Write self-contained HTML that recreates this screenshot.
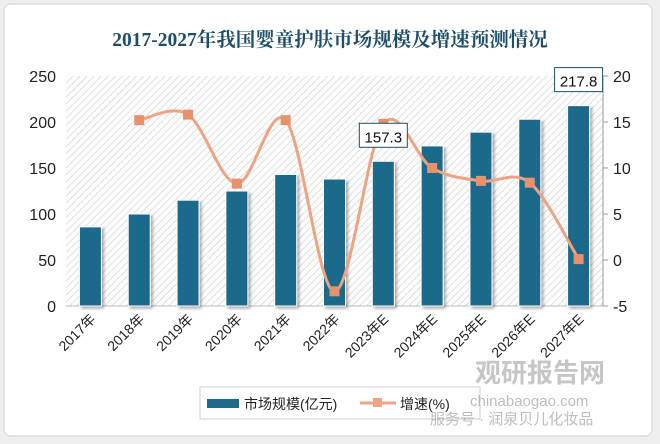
<!DOCTYPE html>
<html><head><meta charset="utf-8"><style>
body{margin:0;background:#fff;}
svg{display:block;font-family:"Liberation Sans","Noto Sans CJK SC",sans-serif;}
</style></head><body>
<svg id="c" width="660" height="444" viewBox="0 0 660 444">
<defs>
<pattern id="hatch" width="5" height="5" patternUnits="userSpaceOnUse" patternTransform="rotate(45)">
<line x1="0" y1="0" x2="0" y2="5" stroke="#d4d4d4" stroke-width="1.5"/></pattern>
<filter id="sh" x="-30%" y="-10%" width="160%" height="130%"><feDropShadow dx="2" dy="2" stdDeviation="1.5" flood-color="#000" flood-opacity="0.35"/></filter>
</defs>
<rect x="0" y="0" width="660" height="444" fill="#efefef"/>
<rect x="4" y="4" width="648" height="432" rx="6" fill="#fff" stroke="#d0d0d0"/>
<text x="330" y="46" text-anchor="middle" font-size="19.5" font-weight="bold" fill="#1f4e6b" font-family="'Liberation Serif','Noto Serif CJK SC',serif">2017-2027年我国婴童护肤市场规模及增速预测情况</text>
<rect x="66" y="76" width="537" height="230" fill="url(#hatch)"/>
<g id="axes"></g>
<g id="bars"></g>
<g id="line"></g>
<g id="labels"></g>
<g>
<rect x="200" y="387" width="280" height="32" fill="#fff" stroke="#d0d0d0"/>
<rect x="207" y="399" width="32" height="9" fill="#1d6a8b"/>
<text x="244" y="409" font-size="14" fill="#222">市场规模(亿元)</text>
<line x1="360" y1="403" x2="396" y2="403" stroke="#eea383" stroke-width="3"/>
<rect x="373" y="398" width="9" height="9" fill="#eea383"/>
<text x="400" y="409" font-size="14" fill="#222">增速(%)</text>
</g>
<g opacity="0.55">
<text x="475" y="382" font-size="26" font-weight="bold" fill="#999">观研报告网</text>
<text x="470" y="406" font-size="15" fill="#888">chinabaogao.com</text>
<text x="430" y="424" font-size="15" fill="#888">服务号 · 润泉贝儿化妆品</text>
</g>
</svg>
<script>
const categories=["2017年","2018年","2019年","2020年","2021年","2022年","2023年E","2024年E","2025年E","2026年E","2027年E"];
const marketSize=[86,100,115,125,143,138,157.3,174,189,203,217.8];
const growth=[null,15.2,15.8,8.3,15.2,-3.4,14.8,10.0,8.6,8.4,0.1];
const leftTicks=[0,50,100,150,200,250];
const rightTicks=[-5,0,5,10,15,20];
const labeled=[6,10];
const NS="http://www.w3.org/2000/svg";
const X0=66,X1=603,Y0=306,Y1=76;
const step=(X1-X0)/categories.length;
const xc=i=>X0+step*(i+0.5);
const yl=v=>Y0-(v-0)/(250-0)*(Y0-Y1);
const yr=v=>Y0-(v+5)/(25)*(Y0-Y1);
function el(t,a,p){const e=document.createElementNS(NS,t);for(const k in a)e.setAttribute(k,a[k]);p.appendChild(e);return e;}
const ax=document.getElementById('axes');
leftTicks.forEach(v=>{const t=el('text',{x:56,y:yl(v)+6,'text-anchor':'end','font-size':16,fill:'#222'},ax);t.textContent=v;

});
el('line',{x1:X1,y1:Y1,x2:X1,y2:Y0,stroke:'#999'},ax);
rightTicks.forEach(v=>{el('line',{x1:X1,y1:yr(v),x2:X1+5,y2:yr(v),stroke:'#999'},ax);
const t=el('text',{x:613,y:yr(v)+6,'font-size':16,fill:'#222'},ax);t.textContent=v;

});
el('line',{x1:X0,y1:Y0,x2:X1,y2:Y0,stroke:'#bbb'},ax);
categories.forEach((c,i)=>{const t=el('text',{x:xc(i)+6,y:Y0+14,'text-anchor':'end','font-size':14,fill:'#222',transform:`rotate(-45 ${xc(i)+6} ${Y0+14})`},ax);t.textContent=c;

});
const bg=document.getElementById('bars');const bw=22;
marketSize.forEach((v,i)=>{const r=el('rect',{x:xc(i)-bw/2,y:yl(v),width:bw,height:Y0-yl(v),fill:'#1d6a8b',stroke:'#fff','stroke-width':1,filter:'url(#sh)'},bg);

});
const pts=[];growth.forEach((v,i)=>{if(v!==null)pts.push([xc(i),yr(v)]);});
let d=`M${pts[0][0]},${pts[0][1]}`;
for(let i=0;i<pts.length-1;i++){const p0=pts[i-1]||pts[i],p1=pts[i],p2=pts[i+1],p3=pts[i+2]||p2;const k=1/6;
d+=` C${p1[0]+(p2[0]-p0[0])*k},${p1[1]+(p2[1]-p0[1])*k} ${p2[0]-(p3[0]-p1[0])*k},${p2[1]-(p3[1]-p1[1])*k} ${p2[0]},${p2[1]}`;}
const lg=document.getElementById('line');
const path=el('path',{d:d,fill:'none',stroke:'#eea383','stroke-width':3},lg);


pts.forEach(p=>{const m=el('rect',{x:p[0]-5,y:p[1]-5,width:10,height:10,fill:'#e8926d'},lg);

});
const lb=document.getElementById('labels');
labeled.forEach(i=>{const cx=xc(i),cy=yl(marketSize[i])-24;
const g=el('g',{},lb);


el('rect',{x:cx-24,y:cy-14,width:48,height:24,fill:'#fff',stroke:'#1f4e6b'},g);
const t=el('text',{x:cx,y:cy+5,'text-anchor':'middle','font-size':15,fill:'#111'},g);t.textContent=marketSize[i];});
</script>
</body></html>
